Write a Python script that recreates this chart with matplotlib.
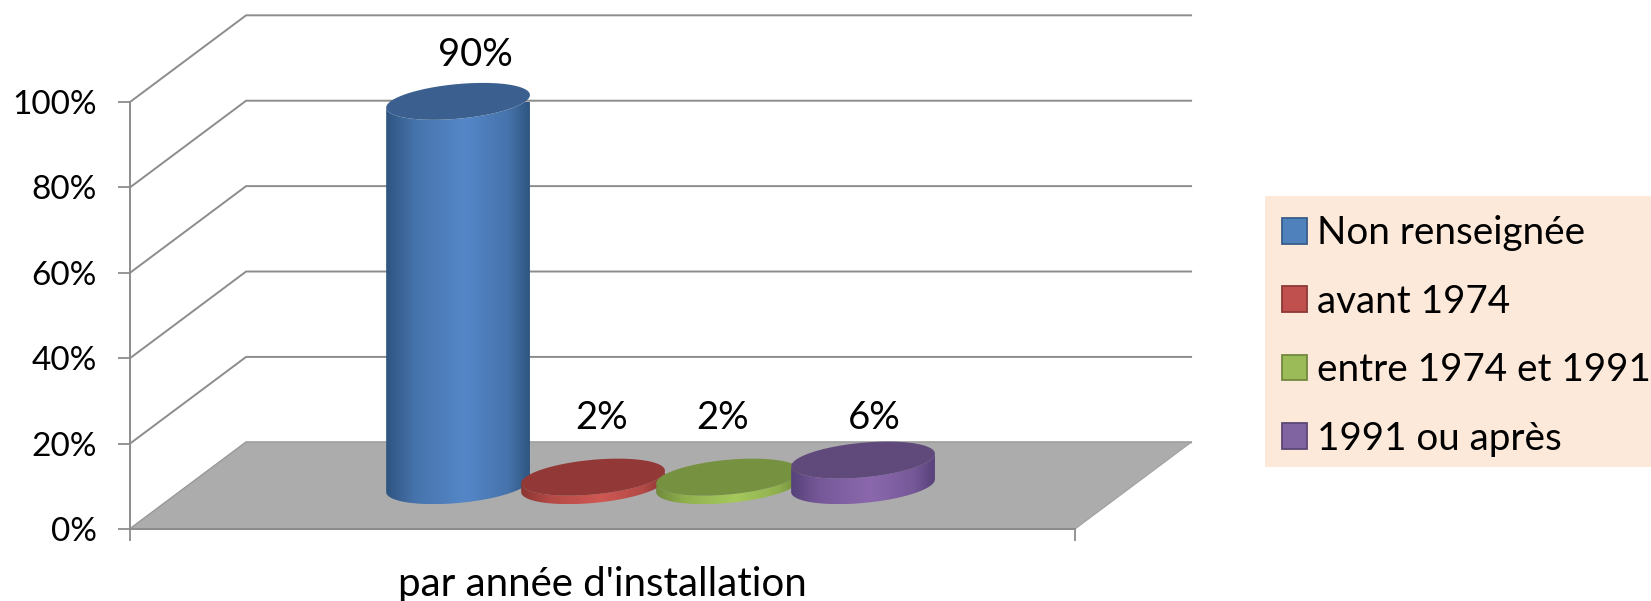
import numpy as np
import matplotlib
matplotlib.use("Agg")
from matplotlib import pyplot as plt
from matplotlib.colors import LinearSegmentedColormap
from matplotlib.patches import Polygon, Rectangle

plt.rcParams['font.family'] = ['Lato', 'DejaVu Sans']

categories = ["Non renseignée", "avant 1974", "entre 1974 et 1991", "1991 ou après"]
values = [90, 2, 2, 6]
y_ticks = [0, 20, 40, 60, 80, 100]
axis_label = "par année d'installation"

side_colors = ["#5587c8", "#cf5853", "#a6c95d", "#8b68ad"]
edge_colors = ["#2f5580", "#8a3532", "#6f8a3a", "#57427a"]
top_colors = ["#3b608f", "#923836", "#76913f", "#604a7b"]
legend_colors = ["#4f81bd", "#c0504d", "#9bbb59", "#8064a2"]
legend_edges = ["#385d8a", "#8c3836", "#71893f", "#5c4776"]

# the "3D" look: how far the back wall sits from the front, in data units
depth_x = 0.86
depth_y = 20.3
radius_x = 0.5
radius_depth = 0.213
label_nudge = [0.13, 0.06, -0.04, 0.08]


def ellipse_point(t, cx, cy):
    x = cx + radius_x * np.cos(t) + radius_depth * depth_x * np.sin(t)
    y = cy + radius_depth * depth_y * np.sin(t)
    return np.column_stack([x, y])


def draw_cylinder(ax, pos, value, side, edge, top, order):
    cx = pos + depth_x / 2
    base = depth_y / 2
    right = np.arctan2(radius_depth * depth_x, radius_x)
    half = np.linspace(right + np.pi, right + 2 * np.pi, 80)
    lower = ellipse_point(half, cx, base)
    upper = ellipse_point(half, cx, base + value)
    outline = np.vstack([lower, upper[::-1]])

    # shading peaks a little right of the middle and falls off to both edges
    cmap = LinearSegmentedColormap.from_list("side", [edge, side, edge])
    grad = np.interp(np.linspace(0, 1, 256), [0, 0.2, 0.55, 0.85, 1], [0, 0.3, 0.5, 0.7, 1])
    x0, x1 = outline[:, 0].min(), outline[:, 0].max()
    y0, y1 = outline[:, 1].min(), outline[:, 1].max()
    im = ax.imshow(grad[np.newaxis, :], extent=(x0, x1, y0, y1), cmap=cmap, aspect="auto",
                   interpolation="bilinear", zorder=order, clip_on=True)
    clip = Polygon(outline, closed=True, transform=ax.transData)
    im.set_clip_path(clip)

    full = np.linspace(0, 2 * np.pi, 160)
    ax.add_patch(Polygon(ellipse_point(full, cx, base + value), closed=True, facecolor=top,
                         edgecolor="none", zorder=order + 0.1, clip_on=False))


W, H = 1651, 601
fig = plt.figure(figsize=(W / 100, H / 100), dpi=100)
ax = fig.add_axes([130 / W, (H - 529) / H, 945 / W, 427 / H])

# walls: one line up the side wall and along the back for every tick
for v in y_ticks:
    ax.plot([-2, -2 + depth_x, 5 + depth_x], [v, v + depth_y, v + depth_y],
            color="#8c8c8c", lw=1.4, clip_on=False, zorder=1, solid_joinstyle="miter")

floor = [(-2, 0), (5, 0), (5 + depth_x, depth_y), (-2 + depth_x, depth_y)]
ax.add_patch(Polygon(floor, closed=True, facecolor="#acacac", edgecolor="#a0a0a0", lw=0.8,
                     clip_on=False, zorder=1.5))

for i, v in enumerate(values):
    draw_cylinder(ax, i, v, side_colors[i], edge_colors[i], top_colors[i], 3 + i)
    label_y = depth_y / 2 + max(v, 6) + (10.8 if v > 50 else 9.8)
    ax.text(i + depth_x / 2 + label_nudge[i], label_y, f"{v}%", ha="center", va="center",
            fontsize=27.5, color="black", zorder=10, clip_on=False)

ax.set_xlim(-2, 5)
ax.set_ylim(0, 100)
ax.set_yticks(y_ticks)
ax.set_yticklabels([f"{v}%" for v in y_ticks])
ax.set_xticks([-2, 5])
ax.set_xticklabels(["", ""])
ax.tick_params(axis="both", color="#8c8c8c", width=1.3, length=8.5, labelsize=24)
ax.tick_params(axis="y", pad=15.5)
ax.set_xlabel(axis_label, fontsize=29, labelpad=14.5)
for name in ["top", "right"]:
    ax.spines[name].set_visible(False)
for name in ["left", "bottom"]:
    ax.spines[name].set_color("#8c8c8c")
    ax.spines[name].set_linewidth(1.4)
ax.patch.set_alpha(0)

# legend sits on its own tinted panel, running off the right side of the figure
fig.patches.append(Rectangle((1265 / W, (H - 467) / H), (W - 1265) / W, 271 / H, facecolor="#fde9d9",
                             edgecolor="none", transform=fig.transFigure, zorder=0))
handles = [Rectangle((0, 0), 1, 1, facecolor=c, edgecolor=e, lw=1.3)
           for c, e in zip(legend_colors, legend_edges)]
fig.legend(handles, categories, loc="center left", bbox_to_anchor=(1282 / W, (H - 336) / H),
           frameon=False, fontsize=27.8, handlelength=0.64, handleheight=0.64, handletextpad=0.27,
           labelspacing=0.84, borderpad=0, borderaxespad=0)

fig.savefig("out.png", dpi=100)
